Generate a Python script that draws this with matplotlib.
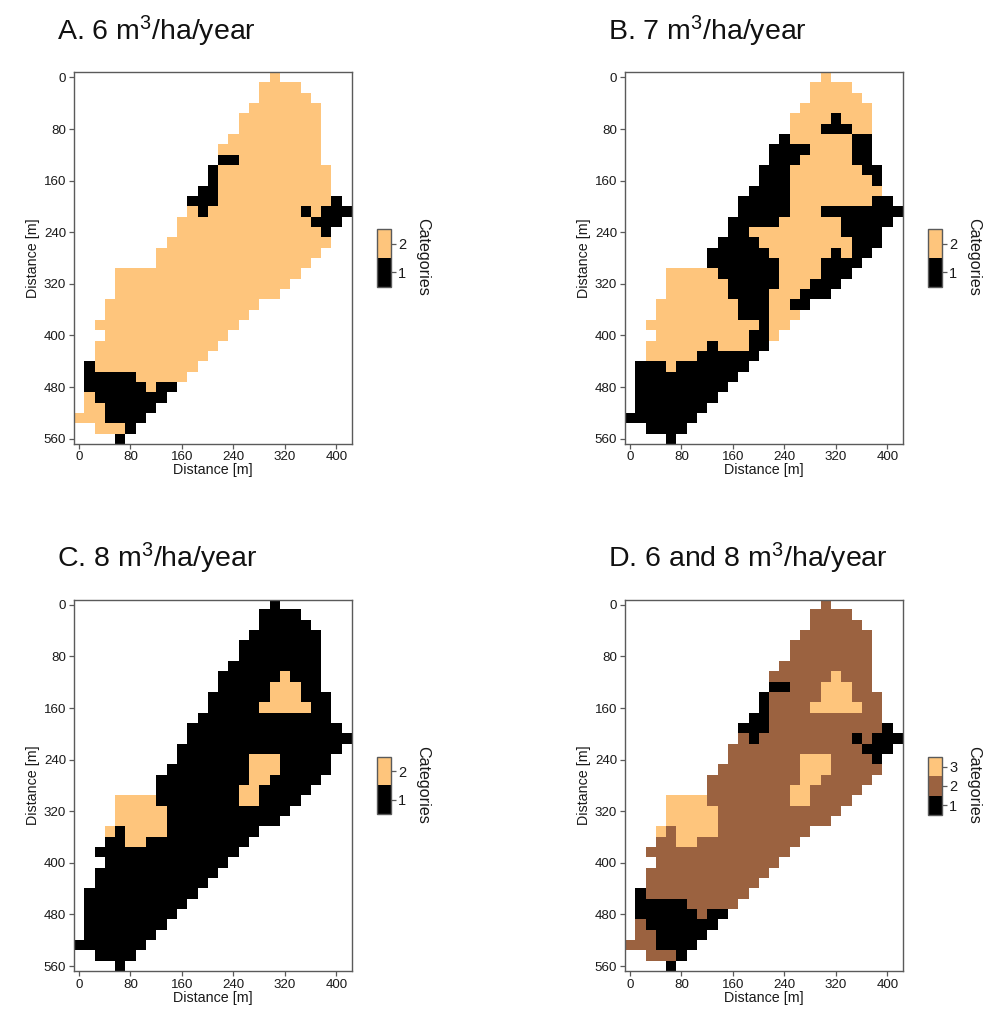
#!/usr/bin/env python
"""Four category maps of the stand, one per growth threshold."""

from __future__ import annotations

import matplotlib

matplotlib.use("Agg")

import matplotlib.pyplot as plt
import numpy as np
from matplotlib.cm import ScalarMappable
from matplotlib.colors import BoundaryNorm, ListedColormap

plt.rcParams["font.family"] = ["Liberation Sans", "DejaVu Sans"]
plt.rcParams["mathtext.fontset"] = "custom"
plt.rcParams["mathtext.rm"] = "Liberation Sans"
plt.rcParams["mathtext.default"] = "regular"

W, H = 983, 1015
CELL = 16

# first and one-past-last occupied column of each grid row
field_first = [19, 18, 18, 17, 16, 16, 15, 14, 14, 13, 13, 12, 11, 11, 10, 10, 9, 8,
               8, 4, 4, 4, 3, 3, 2, 3, 2, 2, 1, 1, 1, 1, 1, 0, 2, 4]
field_stop = [20, 22, 23, 24, 24, 24, 24, 24, 24, 25, 25, 25, 26, 27, 26, 25, 25, 24,
              23, 22, 21, 20, 18, 17, 16, 15, 14, 13, 12, 11, 10, 9, 8, 7, 6, 5]

# row -> column runs that differ from the panel's base category
a_cat1 = {
    8: [(14, 16)], 9: [(13, 14)], 10: [(13, 14)], 11: [(12, 14)],
    12: [(11, 14), (25, 26)], 13: [(12, 13), (22, 23), (24, 27)],
    14: [(23, 26)], 15: [(24, 25)], 28: [(1, 2)], 29: [(1, 6)],
    30: [(1, 7), (8, 10)], 31: [(2, 9)], 32: [(3, 8)], 33: [(3, 7)],
    34: [(5, 6)], 35: [(4, 5)],
}
b_cat1 = {
    4: [(20, 21)], 5: [(19, 22)], 6: [(15, 16), (22, 24)], 7: [(14, 18), (22, 24)],
    8: [(14, 17), (22, 24)], 9: [(13, 16), (23, 25)], 10: [(13, 16), (24, 25)],
    11: [(12, 16)], 12: [(11, 16), (24, 26)], 13: [(11, 16), (19, 27)],
    14: [(10, 15), (21, 26)], 15: [(10, 12), (21, 25)], 16: [(9, 13), (22, 25)],
    17: [(8, 14), (20, 21), (22, 24)], 18: [(8, 15), (19, 23)], 19: [(9, 15), (19, 22)],
    20: [(10, 15), (18, 21)], 21: [(10, 14), (17, 20)], 22: [(11, 14), (16, 18)],
    23: [(11, 14)], 24: [(13, 14)], 25: [(12, 14)], 26: [(8, 9), (12, 14)],
    27: [(7, 13)], 28: [(1, 4), (5, 12)], 29: [(1, 11)], 30: [(1, 10)], 31: [(1, 9)],
    32: [(1, 8)], 33: [(0, 7)], 34: [(2, 6)], 35: [(4, 5)],
}
c_cat2 = {
    7: [(20, 21)], 8: [(19, 22)], 9: [(19, 22)], 10: [(18, 23)], 15: [(17, 20)],
    16: [(17, 20)], 17: [(17, 19)], 18: [(16, 18)], 19: [(4, 8), (16, 18)],
    20: [(4, 9)], 21: [(4, 9)], 22: [(3, 4), (5, 9)], 23: [(5, 7)],
}

titles = [
    "A. 6 m$^{3}$/ha/year",
    "B. 7 m$^{3}$/ha/year",
    "C. 8 m$^{3}$/ha/year",
    "D. 6 and 8 m$^{3}$/ha/year",
]
x_ticks = [0, 80, 160, 240, 320, 400]
y_ticks = [0, 80, 160, 240, 320, 400, 480, 560]

BLACK, BROWN, ORANGE = "#000000", "#9B6240", "#FEC57C"
EDGE = "#5a5a5a"
TEXT = "#1a1a1a"


def build_grid(base, overlays):
    grid = np.full((len(field_first), 27), np.nan)
    for row, (first, stop) in enumerate(zip(field_first, field_stop, strict=True)):
        grid[row, first:stop] = base
    for value, runs in overlays:
        for row, spans in runs.items():
            for first, stop in spans:
                grid[row, first:stop] = value
    return grid


def add_axes_px(fig, left, top, right, bottom):
    return fig.add_axes([left / W, 1 - bottom / H, (right - left) / W, (bottom - top) / H])


def draw_panel(fig, grid, colors, title, left, top):
    ax = add_axes_px(fig, left, top, left + 278, top + 371.5)
    cmap = ListedColormap(colors)
    levels = np.arange(len(colors) + 1) + 0.5
    norm = BoundaryNorm(levels, cmap.N)
    half = CELL / 2
    ax.imshow(grid, cmap=cmap, norm=norm, aspect="auto", interpolation="nearest",
              extent=(-half, 27 * CELL - half, 36 * CELL - half, -half))
    ax.set_xticks(x_ticks)
    ax.set_yticks(y_ticks)
    ax.tick_params(length=3.5, width=0.9, color=EDGE, labelsize=9.6, labelcolor=TEXT, pad=2)
    ax.set_xlabel("Distance [m]", fontsize=10.3, color=TEXT, labelpad=0)
    ax.set_ylabel("Distance [m]", fontsize=10.3, color=TEXT, labelpad=3)
    for spine in ax.spines.values():
        spine.set_color(EDGE)
        spine.set_linewidth(1.0)
    fig.text((left - 17) / W, 1 - (top - 32) / H, title, fontsize=20.5, color="#111111",
             ha="left", va="baseline")

    # category key to the right of the map
    key_top = top + 157 if len(colors) == 2 else top + 157.5
    cax = add_axes_px(fig, left + 303, key_top, left + 317, key_top + 57.5)
    ticks = list(range(1, len(colors) + 1))
    cb = fig.colorbar(ScalarMappable(norm=norm, cmap=cmap), cax=cax, ticks=ticks)
    cb.ax.tick_params(length=3.5, width=0.9, color=EDGE, labelsize=10.5, labelcolor=TEXT, pad=2)
    cb.ax.minorticks_off()
    cb.outline.set_edgecolor(EDGE)
    cb.outline.set_linewidth(1.0)
    fig.text((left + 349) / W, 1 - (key_top + 28) / H, "Categories", rotation=270,
             fontsize=11.6, color=TEXT, ha="center", va="center")


def main() -> int:
    fig = plt.figure(figsize=(W / 100, H / 100), dpi=100)

    grids = [
        build_grid(2, [(1, a_cat1)]),
        build_grid(2, [(1, b_cat1)]),
        build_grid(1, [(2, c_cat2)]),
        build_grid(2, [(1, a_cat1), (3, c_cat2)]),
    ]
    colors = [[BLACK, ORANGE], [BLACK, ORANGE], [BLACK, ORANGE], [BLACK, BROWN, ORANGE]]
    origins = [(73.7, 72.3), (624.7, 72.3), (73.7, 599.7), (624.7, 599.7)]

    for grid, cols, title, (left, top) in zip(grids, colors, titles, origins, strict=True):
        draw_panel(fig, grid, cols, title, left, top)

    fig.savefig("out.png", dpi=100)
    plt.close(fig)
    return 0


if __name__ == "__main__":
    raise SystemExit(main())
